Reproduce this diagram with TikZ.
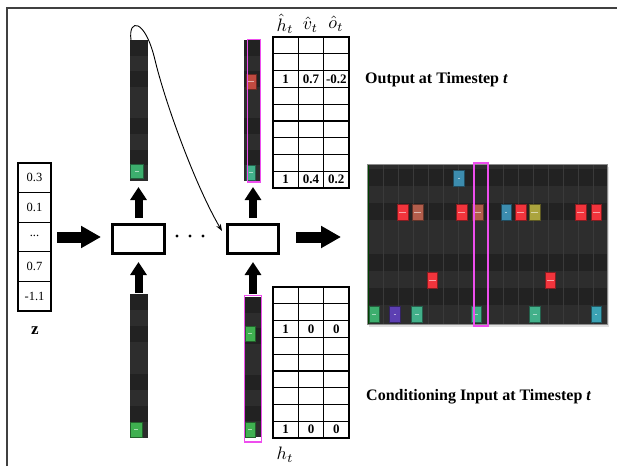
\documentclass[tikz,border=0pt]{standalone}
\usepackage{fontspec}
\newfontfamily\tnr{Liberation Serif}
\usetikzlibrary{arrows.meta}
\definecolor{prd}{HTML}{222222}
\definecolor{prl}{HTML}{2D2D2D}
\definecolor{prgrid}{HTML}{3A3A3A}
\definecolor{magq}{HTML}{EE4EEE}
\definecolor{nred}{HTML}{F2343C}
\definecolor{nbrown}{HTML}{B35E4C}
\definecolor{nblue}{HTML}{3C8CAE}
\definecolor{nolive}{HTML}{ABA43E}
\definecolor{ngreen}{HTML}{3DAE6E}
\definecolor{nteal}{HTML}{42B08A}
\definecolor{npurple}{HTML}{5C3FB2}
\definecolor{ncyan}{HTML}{3BA2B4}
\definecolor{cred}{HTML}{C04A40}
\definecolor{cgreen}{HTML}{3FB050}
\newcommand\mynote[6]{%
  \fill[#5, draw=black!45!#5, line width=0.5pt] (#1,#2) rectangle (#3,#4);
  \draw[white!55!#5, line width=1pt] ({(#1+#3)/2-#6},{(#2+#4)/2}) -- ({(#1+#3)/2+#6},{(#2+#4)/2});}
\newcommand\colvec[5]{%
  \foreach \s [count=\i from 0] in {prd,prl,prd,prl,prl,prd,prl,prd,prl}
    \fill[\s] (#2,{#3+\i*#5/9}) rectangle ({#2+#4},{#3+(\i+1)*#5/9});
  \node[inner sep=0, outer sep=0, minimum width=#4pt, minimum height=#5pt, anchor=north west] (#1) at (#2,#3) {};}
\newcommand\gridtable[2]{% name prefix, top y
  \foreach \r in {0,...,8} \foreach \c in {0,1,2}
    \node[tcell] (#1-\r-\c) at ({273+25.33*\c},{#2+16.78*\r}) {};
  \foreach \r in {0,...,9} \draw[tline] (272.4,{#2+16.78*\r}) -- (349.6,{#2+16.78*\r});
  \foreach \c in {0,...,3} \draw[tline] ({273+25.33*\c},{#2-0.6}) -- ({273+25.33*\c},{#2+151.6});}
\begin{document}
\begin{tikzpicture}[x=1pt,y=-1pt,
  frameline/.style={line width=2pt, draw=black!75},
  zcell/.style={draw, line width=1.2pt, minimum width=33pt, minimum height=29.6pt, inner sep=0, outer sep=0, anchor=north west, font=\tnr\fontsize{12.5}{12.5}\selectfont},
  tcell/.style={minimum width=25.33pt, minimum height=16.78pt, inner sep=0, outer sep=0, anchor=north west},
  tline/.style={line width=1.2pt, draw=black},
  ttext/.style={inner sep=0, font=\tnr\bfseries\fontsize{13}{13}\selectfont},
  rnnbox/.style={draw, line width=3pt, inner sep=0, fill=white},
  harrow/.style={line width=11pt, -{Triangle[length=20pt,width=21pt]}},
  varrow/.style={line width=8pt, -{Triangle[length=13pt,width=16pt]}},
  curvearrow/.style={line width=0.9pt, -{Stealth[length=7pt,width=5pt]}},
  hilite/.style={draw=magq, line width=1.6pt},
  label/.style={inner sep=0, anchor=west, font=\tnr\bfseries\fontsize{16}{16}\selectfont},
  mathlabel/.style={inner sep=0}
]
\useasboundingbox (0,0) rectangle (617,466);
% frame
\draw[frameline] (7,466) -- (7,8) -- (617,8);

% z vector
\node[zcell] (z0) at (18,163) {0.3};
\node[zcell] (z1) at (18,192.6) {0.1};
\node[zcell] (z2) at (18,222.2) {\raisebox{0.5ex}{...}};
\node[zcell] (z3) at (18,251.8) {0.7};
\node[zcell] (z4) at (18,281.4) {-1.1};
\node[inner sep=0, font=\tnr\bfseries\fontsize{17}{17}\selectfont] (zlab) at (35,331) {z};

% RNN boxes
\node[rnnbox, minimum width=52pt, minimum height=29pt] (box1) at (138.5,239) {};
\node[rnnbox, minimum width=51pt, minimum height=29pt] (box2) at (253,239) {};
\foreach \x in {177,190,203} \fill (\x,236) circle (1.7);

% column vectors
\colvec{col1}{130}{40}{18}{141}
\mynote{130}{164}{143}{178}{ngreen}{2}
\colvec{col2}{244}{40}{16}{141}
\mynote{246}{74}{256}{89}{cred}{3}
\mynote{246}{165}{255}{180}{nteal}{2}
\draw[hilite] (247.5,39.5) rectangle (260.5,182);
\colvec{col3}{130}{294}{18}{144}
\mynote{130}{422}{142}{437}{cgreen}{2}
\colvec{col4}{245}{297}{16}{140}
\mynote{245}{326}{255}{341}{cgreen}{2}
\mynote{245}{422}{255}{437}{cgreen}{2}
\draw[hilite] (244.5,295.5) rectangle (261.5,442);

% arrows
\draw[harrow, shorten <=6pt, shorten >=10pt] (z2.east) -- (z2.east -| box1.west);
\coordinate (outarrow) at (341,237);
\draw[harrow, shorten <=16pt] (box2.east |- outarrow) -- (outarrow);
\draw[varrow, shorten <=5pt, shorten >=6pt] (box1.north) -- (box1.north |- col1.south);
\draw[varrow, shorten <=5pt, shorten >=6pt] (box2.north) -- (box2.north |- col2.south);
\draw[varrow, shorten <=1pt, shorten >=7pt] (box1.south |- col3.north) -- (box1.south);
\draw[varrow, shorten <=3pt, shorten >=7pt] (box2.south |- col4.north) -- (box2.south);
\draw[curvearrow] ([xshift=1pt]col1.north west) .. controls (128,18) and (145,18) .. (155,60)
   .. controls (165,102) and (195,185) .. ([shift={(-4pt,-8pt)}]box2.north west);

% tables
\gridtable{T}{37}
\gridtable{B}{287}
\node[ttext] (ta1) at (T-2-0) {1};
\node[ttext] (ta2) at (T-2-1) {0.7};
\node[ttext] (ta3) at (T-2-2) {-0.2};
\node[ttext] (tb1) at (T-8-0) {1};
\node[ttext] (tb2) at (T-8-1) {0.4};
\node[ttext] (tb3) at (T-8-2) {0.2};
\node[ttext] (ba1) at (B-2-0) {1};
\node[ttext] (ba2) at (B-2-1) {0};
\node[ttext] (ba3) at (B-2-2) {0};
\node[ttext] (bb1) at (B-8-0) {1};
\node[ttext] (bb2) at (B-8-1) {0};
\node[ttext] (bb3) at (B-8-2) {0};
\node[mathlabel] (hh) at (285,24) {\scalebox{1.8}{$\hat{h}_t$}};
\node[mathlabel] (hv) at (310.5,24.5) {\scalebox{1.8}{$\hat{v}_t$}};
\node[mathlabel] (ho) at (336,24) {\scalebox{1.8}{$\hat{o}_t$}};
\node[mathlabel] (hlab) at (285,455) {\scalebox{1.8}{$h_t$}};

% piano roll
\fill[black!12] (369,167) rectangle (609,327);
\fill[prl] (367,164) rectangle (607,324);
\foreach \k in {0,2,5,7} \fill[prd] (367,{169+17*\k}) rectangle (607,{186+17*\k});
\foreach \k in {1,...,15} \draw[prgrid, line width=0.6pt] ({368+15*\k},164) -- ({368+15*\k},324);
\draw[green!25!black, line width=1pt] (368,164) -- (368,324);
\node[draw=black!45, line width=1pt, inner sep=0, outer sep=0, minimum width=240pt, minimum height=160pt, anchor=north west] (roll) at (367,164) {};
% row 0
\mynote{453}{170}{464}{186}{nblue}{1}
% row 2
\mynote{397}{204}{408}{220}{nred}{3.5}
\mynote{412}{204}{423}{220}{nbrown}{3.5}
\mynote{456}{204}{467}{220}{nred}{3.5}
\mynote{472}{204}{483}{220}{nbrown}{3.5}
\mynote{501}{204}{511}{220}{nblue}{1}
\mynote{515}{204}{526}{220}{nred}{3.5}
\mynote{529}{204}{540}{220}{nolive}{3.5}
\mynote{575}{204}{586}{220}{nred}{3.5}
\mynote{591}{204}{601}{220}{nred}{3.5}
% row 6
\mynote{427}{272}{437}{288}{nred}{3.5}
\mynote{545}{272}{555}{288}{nred}{3.5}
% row 8
\mynote{369}{306}{379}{322}{ngreen}{2}
\mynote{389}{306}{400}{322}{npurple}{1}
\mynote{411}{306}{422}{322}{nteal}{2}
\mynote{471}{306}{481}{322}{nteal}{2}
\mynote{529}{306}{540}{322}{nteal}{2}
\mynote{591}{306}{601}{322}{ncyan}{1}
\draw[hilite, line width=2pt] (473.5,163) rectangle (487.5,326);

% labels
\node[label] (outlab) at (365,80) {Output at Timestep \textit{t}};
\node[label] (condlab) at (366,397) {Conditioning Input at Timestep \textit{t}};
\end{tikzpicture}
\end{document}
